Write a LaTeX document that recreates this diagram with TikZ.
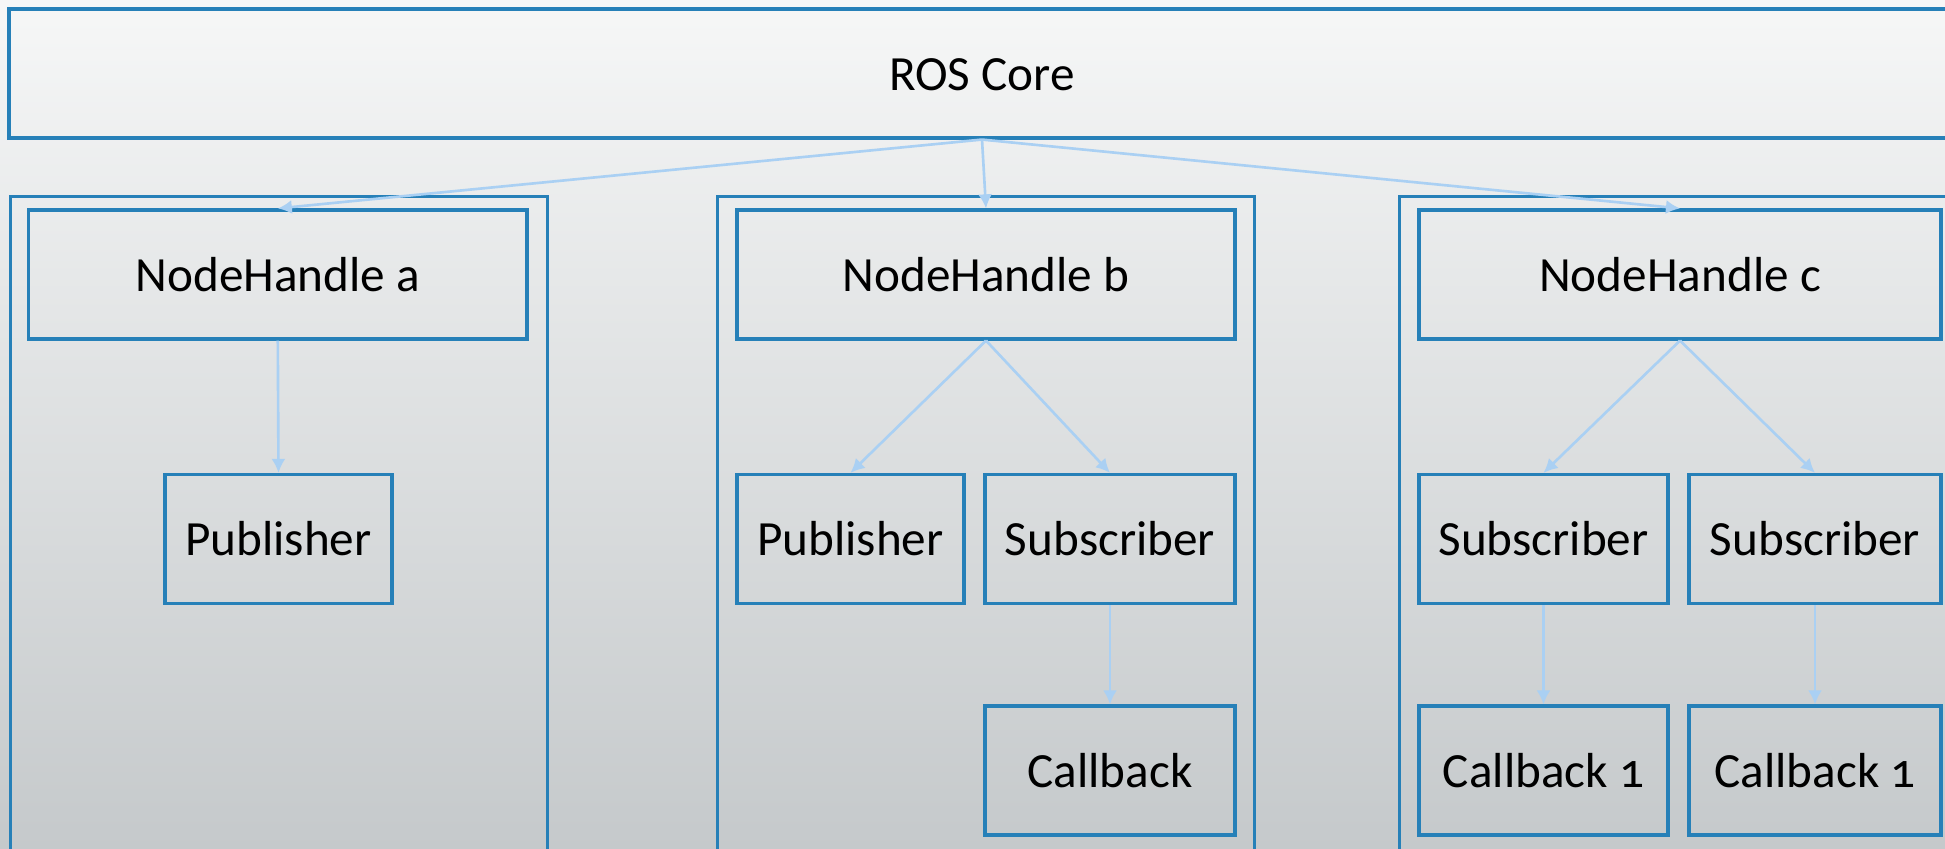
\documentclass[tikz,border=0pt]{standalone}
\usepackage{fontspec}
\setmainfont[Numbers=OldStyle]{Carlito}
\usetikzlibrary{arrows.meta}

\definecolor{boxblue}{RGB}{38,128,184}
\definecolor{arrowblue}{RGB}{170,208,243}
\definecolor{bgtop}{RGB}{246,247,247}
\definecolor{bgmid}{RGB}{231,233,233}
\definecolor{bgbot}{RGB}{197,201,203}

\tikzset{
    box/.style={draw=boxblue, line width=0.9pt, rectangle, minimum height=1.29cm,
        text height=9.6pt, text depth=0pt, font=\fontsize{14}{16}\selectfont},
    group/.style={draw=boxblue, line width=0.9pt, rectangle, anchor=north west, minimum height=7cm},
    link/.style={arrowblue, line width=0.75pt, ->}
}

\begin{document}
\begin{tikzpicture}[>={Latex[length=4pt,width=4pt]}]
    % 背景
    \useasboundingbox (0,0) rectangle (19.45,8.49);
    \clip (0,0) rectangle (19.45,8.49);
    \shade[top color=bgtop, middle color=bgmid, bottom color=bgbot] (0,0) rectangle (19.45,8.49);

    % ROS Core
    \node[box, minimum width=19.46cm] (ros) at (9.82,7.755) {ROS Core};

    % 分组
    \node[group, minimum width=5.37cm] (grpa) at (0.09,6.54) {};
    \node[group, minimum width=5.37cm] (grpb) at (7.16,6.54) {};
    \node[group, minimum width=5.7cm] (grpc) at (13.98,6.54) {};

    % 节点句柄
    \node[box, minimum width=4.985cm] (nha) at (2.778,5.745) {NodeHandle a};
    \node[box, minimum width=4.98cm] (nhb) at (9.86,5.745) {NodeHandle b};
    \node[box, minimum width=5.22cm] (nhc) at (16.80,5.745) {NodeHandle c};

    % 发布者与订阅者
    \node[box, minimum width=2.27cm] (puba) at (2.785,3.10) {Publisher};
    \node[box, minimum width=2.27cm] (pubb) at (8.505,3.10) {Publisher};
    \node[box, minimum width=2.50cm] (subb) at (11.10,3.10) {Subscriber};
    \node[box, minimum width=2.49cm] (subc1) at (15.435,3.10) {Subscriber};
    \node[box, minimum width=2.52cm] (subc2) at (18.15,3.10) {Subscriber};

    % 回调
    \node[box, minimum width=2.50cm] (cbb) at (11.10,0.785) {Callback};
    \node[box, minimum width=2.49cm] (cbc1) at (15.435,0.785) {Callback 1};
    \node[box, minimum width=2.52cm] (cbc2) at (18.15,0.785) {Callback 1};

    % 箭头
    \draw[link] (ros.south) -- (nha.north);
    \draw[link] (ros.south) -- (nhb.north);
    \draw[link] (ros.south) -- (nhc.north);

    \draw[link] (nha.south) -- (puba.north);
    \draw[link] (nhb.south) -- (pubb.north);
    \draw[link] (nhb.south) -- (subb.north);
    \draw[link] (nhc.south) -- (subc1.north);
    \draw[link] (nhc.south) -- (subc2.north);

    \draw[link] (subb.south) -- (cbb.north);
    \draw[link] (subc1.south) -- (cbc1.north);
    \draw[link] (subc2.south) -- (cbc2.north);
\end{tikzpicture}
\end{document}
